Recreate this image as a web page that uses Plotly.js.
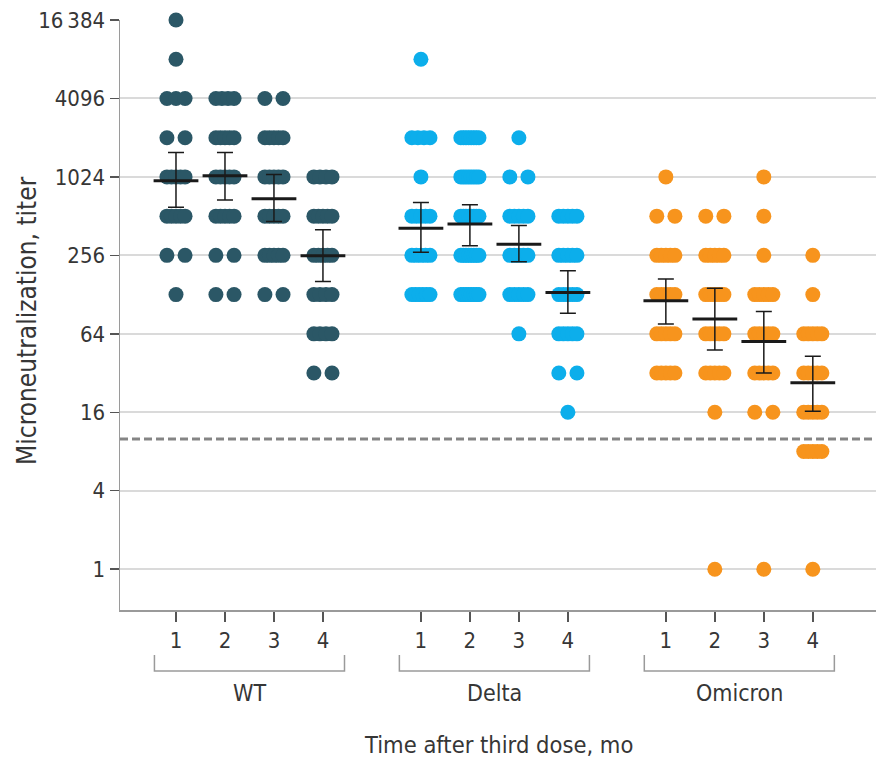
<!DOCTYPE html>
<html><head><meta charset="utf-8">
<script src="https://cdn.plot.ly/plotly-3.0.1.min.js"></script>
<style>html,body{margin:0;padding:0;background:#fff}#chart{width:876px;height:763px}</style>
</head><body><div id="chart"></div><script>
const groups = ['WT', 'Delta', 'Omicron'];
const monthLabels = ['1', '2', '3', '4'];
const groupColors = ['#2b5766', '#0caeeb', '#f7941d'];
const yTickVals = [1, 4, 16, 64, 256, 1024, 4096, 16384];
const yTickText = ['1', '4', '16', '64', '256', '1024', '4096', '16\u2009384'];
const threshold = 10;

// Titer levels and number of participants observed at each level
const wt1Levels = [16384, 8192, 4096, 2048, 1024, 512, 256, 128];
const wt1Counts = [1, 1, 3, 2, 5, 5, 2, 1];
const wt2Levels = [4096, 2048, 1024, 512, 256, 128];
const wt2Counts = [4, 5, 5, 5, 2, 2];
const wt3Levels = [4096, 2048, 1024, 512, 256, 128];
const wt3Counts = [2, 5, 5, 5, 5, 2];
const wt4Levels = [1024, 512, 256, 128, 64, 32];
const wt4Counts = [4, 5, 5, 4, 4, 2];

const delta1Levels = [8192, 2048, 1024, 512, 256, 128];
const delta1Counts = [1, 4, 1, 5, 5, 6];
const delta2Levels = [2048, 1024, 512, 256, 128];
const delta2Counts = [8, 8, 8, 8, 8];
const delta3Levels = [2048, 1024, 512, 256, 128, 64];
const delta3Counts = [1, 2, 5, 5, 5, 1];
const delta4Levels = [512, 256, 128, 64, 32, 16];
const delta4Counts = [5, 5, 5, 5, 2, 1];

const omi1Levels = [1024, 512, 256, 128, 64, 32];
const omi1Counts = [1, 2, 5, 5, 5, 5];
const omi2Levels = [512, 256, 128, 64, 32, 16, 1];
const omi2Counts = [2, 5, 5, 5, 5, 1, 1];
const omi3Levels = [1024, 512, 256, 128, 64, 32, 16, 1];
const omi3Counts = [1, 1, 1, 5, 5, 5, 2, 1];
const omi4Levels = [256, 128, 64, 32, 16, 8, 1];
const omi4Counts = [1, 1, 5, 5, 5, 5, 1];

// Geometric mean titers with 95% CI
const wtGMT = [955, 1045, 695, 254];
const wtLower = [600, 680, 465, 161];
const wtUpper = [1574, 1574, 1067, 402];
const deltaGMT = [413, 446, 311, 133];
const deltaLower = [271, 304, 229, 92];
const deltaUpper = [653, 626, 434, 195];
const omiGMT = [115, 83, 56, 27];
const omiLower = [76, 48, 32, 16.3];
const omiUpper = [169, 143, 95, 43];

const levelSets = [
  [[wt1Levels, wt1Counts], [wt2Levels, wt2Counts], [wt3Levels, wt3Counts], [wt4Levels, wt4Counts]],
  [[delta1Levels, delta1Counts], [delta2Levels, delta2Counts], [delta3Levels, delta3Counts], [delta4Levels, delta4Counts]],
  [[omi1Levels, omi1Counts], [omi2Levels, omi2Counts], [omi3Levels, omi3Counts], [omi4Levels, omi4Counts]]
];
const gmtSets = [[wtGMT, wtLower, wtUpper], [deltaGMT, deltaLower, deltaUpper], [omiGMT, omiLower, omiUpper]];

const FONT = '"Liberation Sans Narrow", "DejaVu Sans Condensed", "Roboto Condensed", "Open Sans", sans-serif';
const TXT = '#363636';
const SPREAD = 0.37; // swarm width in x units

const xPos = (g, m) => g * 5 + m + 1;
const traces = [];

groups.forEach((gName, g) => {
  levelSets[g].forEach(([levels, counts], m) => {
    const xs = [], ys = [];
    levels.forEach((lv, i) => {
      const n = counts[i];
      for (let k = 0; k < n; k++) {
        const off = n === 1 ? 0 : -SPREAD / 2 + k * SPREAD / (n - 1);
        xs.push(xPos(g, m) + off);
        ys.push(lv);
      }
    });
    traces.push({
      type: 'scatter', mode: 'markers', x: xs, y: ys, cliponaxis: false,
      marker: {size: 15, color: groupColors[g], line: {width: 0}},
      hoverinfo: 'y', showlegend: false
    });
  });
});

gmtSets.forEach(([gmt, lo, hi], g) => {
  traces.push({
    type: 'scatter', mode: 'markers', cliponaxis: false,
    x: gmt.map((_, m) => xPos(g, m)), y: gmt,
    marker: {symbol: 'line-ew', size: 32, line: {width: 3, color: '#1a1a1a'}, color: '#1a1a1a'},
    error_y: {type: 'data', symmetric: false,
      array: gmt.map((v, i) => hi[i] - v), arrayminus: gmt.map((v, i) => v - lo[i]),
      color: '#1a1a1a', thickness: 1.5, width: 8},
    showlegend: false, hoverinfo: 'y'
  });
});

const tickVals = [], tickText = [];
groups.forEach((_, g) => monthLabels.forEach((lab, m) => { tickVals.push(xPos(g, m)); tickText.push(lab); }));

const shapes = [
  {type: 'line', xref: 'paper', yref: 'y', x0: 0, x1: 1, y0: threshold, y1: threshold,
   line: {color: '#858585', width: 3, dash: '8px,4px'}, layer: 'below'}
];
const annotations = [];
groups.forEach((gName, g) => {
  const c = xPos(g, 1.5);
  const x0 = c - 1.94, x1 = c + 1.94;
  shapes.push({type: 'path', xref: 'x', yref: 'paper',
    path: `M ${x0} -0.0763 L ${x0} -0.1034 L ${x1} -0.1034 L ${x1} -0.0763`,
    line: {color: '#9a9a9a', width: 1.5}});
  annotations.push({xref: 'x', yref: 'paper', x: c, y: -0.1407, text: gName, showarrow: false,
    xanchor: 'center', yanchor: 'middle', font: {family: FONT, size: 23, color: TXT}});
});
annotations.push({xref: 'paper', yref: 'paper', x: 0.5, y: -0.2288, text: 'Time after third dose, mo',
  showarrow: false, xanchor: 'center', yanchor: 'middle', font: {family: FONT, size: 23.5, color: TXT}});
annotations.push({xref: 'paper', yref: 'paper', x: -0.123, y: 0.49, text: 'Microneutralization, titer',
  showarrow: false, textangle: -90, xanchor: 'center', yanchor: 'middle', font: {family: FONT, size: 26, color: TXT}});

const layout = {
  width: 876, height: 763,
  margin: {l: 120, r: 0, t: 20, b: 153},
  paper_bgcolor: '#fff', plot_bgcolor: '#fff',
  font: {family: FONT, size: 22, color: TXT},
  showlegend: false,
  xaxis: {range: [-0.143, 15.29], tickvals: tickVals, ticktext: tickText, ticks: 'outside', ticklen: 10,
    tickwidth: 1.5, tickcolor: '#555', showgrid: false, zeroline: false, showline: true,
    linecolor: '#9a9a9a', linewidth: 1.5, tickfont: {family: FONT, size: 22, color: TXT}},
  yaxis: {type: 'log', range: [Math.log10(Math.pow(2, -1.04)), Math.log10(16384)], tickvals: yTickVals, ticktext: yTickText,
    ticks: 'outside', ticklen: 9, tickwidth: 1.5, tickcolor: '#555', showgrid: true, gridcolor: '#dadada',
    gridwidth: 2, zeroline: false, showline: true, linecolor: '#9a9a9a', linewidth: 1.5,
    tickfont: {family: FONT, size: 22, color: TXT}},
  shapes: shapes, annotations: annotations
};

Plotly.newPlot('chart', traces, layout, {displayModeBar: false, staticPlot: true});
</script></body></html>
